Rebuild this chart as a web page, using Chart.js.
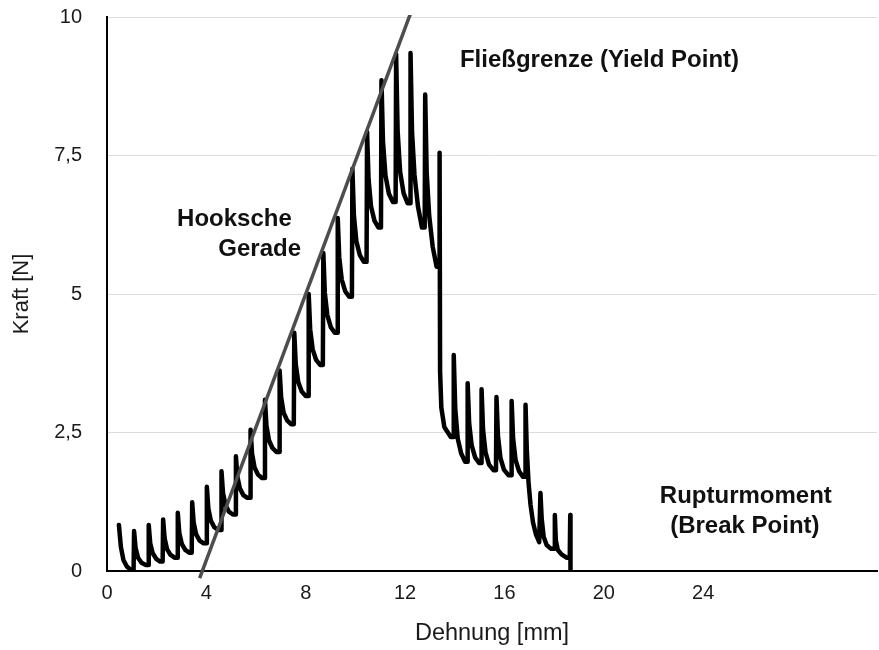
<!DOCTYPE html>
<html>
<head>
<meta charset="utf-8">
<script src="https://cdn.jsdelivr.net/npm/chart.js@4/dist/chart.umd.min.js"></script>
<style>
html,body{margin:0;padding:0;background:#fff;}
#wrap{width:879px;height:650px;}
</style>
</head>
<body>
<div id="wrap"><canvas id="c" width="879" height="650"></canvas></div>
<script>
// Dehnung [mm] (x) and Kraft [N] (y) of the measured sawtooth curve
const strainMm = [
  0.48,0.56,0.66,0.80,0.96,
  1.07,1.09,1.15,1.25,1.39,1.55,
  1.66,1.68,1.74,1.84,1.98,2.14,
  2.24,2.26,2.32,2.42,2.56,2.72,
  2.83,2.85,2.91,3.01,3.15,3.31,
  3.41,3.43,3.49,3.59,3.73,3.89,
  4.00,4.02,4.08,4.18,4.32,4.48,
  4.59,4.61,4.67,4.77,4.91,5.07,
  5.17,5.19,5.25,5.35,5.49,5.65,
  5.76,5.78,5.84,5.94,6.08,6.24,
  6.34,6.36,6.42,6.52,6.66,6.82,
  6.93,6.95,7.01,7.11,7.25,7.41,
  7.52,7.54,7.60,7.70,7.84,8.00,
  8.10,8.12,8.18,8.28,8.42,8.58,
  8.69,8.71,8.77,8.87,9.01,9.17,
  9.27,9.29,9.35,9.45,9.59,9.75,
  9.86,9.88,9.94,10.04,10.18,10.34,
  10.45,10.47,10.53,10.63,10.77,10.93,
  11.03,11.05,11.11,11.21,11.35,11.51,
  11.62,11.64,11.70,11.80,11.94,12.10,
  12.20,12.22,12.28,12.38,12.52,12.68,
  12.79,12.81,12.87,12.97,13.11,13.27,
  13.37,13.39,13.41,13.46,13.58,13.84,
  13.94,13.96,14.02,14.12,14.26,14.42,
  14.50,14.52,14.58,14.68,14.82,14.98,
  15.06,15.08,15.14,15.24,15.38,15.56,
  15.66,15.68,15.74,15.84,15.98,16.16,
  16.27,16.29,16.35,16.45,16.59,16.75,
  16.83,16.85,16.90,16.97,17.05,17.15,17.27,17.40,
  17.43,17.45,17.50,17.58,17.70,17.88,
  18.01,18.03,18.07,18.15,18.30,18.50,
  18.63,18.65,18.66
];
const forceN = [
  0.83,0.43,0.20,0.08,0.02,
  0.02,0.72,0.42,0.24,0.15,0.11,
  0.11,0.83,0.50,0.32,0.22,0.17,
  0.17,0.93,0.59,0.39,0.29,0.24,
  0.24,1.05,0.69,0.49,0.38,0.33,
  0.33,1.24,0.87,0.66,0.55,0.50,
  0.50,1.52,1.13,0.91,0.79,0.74,
  0.74,1.80,1.41,1.19,1.07,1.02,
  1.02,2.07,1.70,1.49,1.37,1.32,
  1.32,2.55,2.12,1.87,1.74,1.68,
  1.68,3.09,2.62,2.36,2.22,2.15,
  2.15,3.62,3.14,2.86,2.72,2.65,
  2.65,4.30,3.73,3.41,3.24,3.16,
  3.16,5.00,4.36,4.00,3.81,3.72,
  3.72,5.74,5.02,4.62,4.40,4.30,
  4.30,6.37,5.66,5.26,5.05,4.95,
  4.95,7.26,6.42,5.95,5.70,5.58,
  5.58,7.93,7.07,6.58,6.32,6.20,
  6.20,8.86,7.76,7.14,6.81,6.66,
  6.66,9.33,7.95,7.21,6.82,6.64,
  6.64,9.35,7.93,7.15,6.58,6.20,
  6.20,8.60,7.20,6.42,5.86,5.49,
  5.49,7.55,3.60,2.95,2.60,2.42,
  2.42,3.90,2.94,2.39,2.12,1.97,
  1.97,3.39,2.67,2.27,2.05,1.95,
  1.95,3.28,2.55,2.14,1.92,1.82,
  1.82,3.14,2.44,2.04,1.83,1.73,
  1.73,3.07,2.39,2.00,1.80,1.70,
  1.70,3.00,2.20,1.60,1.20,0.88,0.66,0.52,
  0.52,1.41,0.95,0.62,0.47,0.40,
  0.40,1.01,0.55,0.38,0.30,0.24,
  0.24,1.01,0.00
];
// Hooksche Gerade (straight line)
const hookeStrain = [3.73, 12.25];
const hookeForce = [-0.13, 10.1];
// tick labels
const xTickValues = [0, 4, 8, 12, 16, 20, 24];
const yTickValues = [0, 2.5, 5, 7.5, 10];
// annotation texts with anchor in data units
const noteTexts = ['Fließgrenze (Yield Point)', 'Hooksche', 'Gerade', 'Rupturmoment', '(Break Point)'];
const noteX = [14.21, 2.82, 7.81, 25.72, 25.68];
const noteY = [9.22, 6.34, 5.81, 1.34, 0.81];
const noteAlign = ['left', 'left', 'right', 'center', 'center'];

const curve = strainMm.map((x, i) => ({x: x, y: forceN[i]}));
const hooke = hookeStrain.map((x, i) => ({x: x, y: hookeForce[i]}));

const notesPlugin = {
  id: 'notes',
  afterDatasetsDraw(chart) {
    const ctx = chart.ctx;
    const xs = chart.scales.x, ys = chart.scales.y;
    ctx.save();
    ctx.font = 'bold 24px "Liberation Sans", Arial, sans-serif';
    ctx.fillStyle = '#111';
    ctx.textBaseline = 'middle';
    noteTexts.forEach((t, i) => {
      ctx.textAlign = noteAlign[i];
      ctx.fillText(t, xs.getPixelForValue(noteX[i]), ys.getPixelForValue(noteY[i]));
    });
    ctx.restore();
  }
};

new Chart(document.getElementById('c'), {
  type: 'line',
  data: {
    datasets: [
      {
        label: 'Hooksche Gerade',
        data: hooke,
        borderColor: '#4d4d4d',
        borderWidth: 3.5,
        pointRadius: 0,
        tension: 0,
        order: 0,
        clip: {left: 0, top: 2, right: 0, bottom: 8}
      },
      {
        label: 'Kraft',
        data: curve,
        borderColor: '#000',
        borderWidth: 4.5,
        pointRadius: 0,
        tension: 0,
        borderJoinStyle: 'round',
        borderCapStyle: 'round',
        order: 1
      }
    ]
  },
  options: {
    responsive: false,
    animation: false,
    devicePixelRatio: 1,
    layout: {padding: {top: 0, right: 2, left: 0, bottom: 0}},
    plugins: {legend: {display: false}, tooltip: {enabled: false}},
    scales: {
      x: {
        type: 'linear',
        min: 0,
        max: 31,
        afterBuildTicks: s => { s.ticks = xTickValues.map(v => ({value: v})); },
        afterFit: s => { s.height = 79; },
        grid: {display: false, drawTicks: false},
        border: {display: true, color: '#000', width: 2},
        ticks: {
          autoSkip: false, maxRotation: 0, padding: 10,
          color: '#1a1a1a',
          font: {family: '"Liberation Sans", Arial, sans-serif', size: 20}
        },
        title: {
          display: true, text: 'Dehnung [mm]', color: '#1a1a1a',
          font: {family: '"Liberation Sans", Arial, sans-serif', size: 23.5},
          padding: {top: 0, bottom: 2}
        }
      },
      y: {
        type: 'linear',
        min: 0,
        max: 10,
        afterBuildTicks: s => { s.ticks = yTickValues.map(v => ({value: v})); },
        afterFit: s => { s.width = 107; },
        grid: {color: '#dcdcdc', lineWidth: 1, drawTicks: true, tickLength: 20, tickColor: 'rgba(0,0,0,0)'},
        border: {display: true, color: '#000', width: 2},
        ticks: {
          padding: 5,
          color: '#1a1a1a',
          font: {family: '"Liberation Sans", Arial, sans-serif', size: 20},
          callback: v => String(v).replace('.', ',')
        },
        title: {
          display: true, text: 'Kraft [N]', color: '#1a1a1a',
          font: {family: '"Liberation Sans", Arial, sans-serif', size: 22},
          padding: {top: 9, bottom: 0}
        }
      }
    }
  },
  plugins: [notesPlugin]
});
</script>
</body>
</html>
